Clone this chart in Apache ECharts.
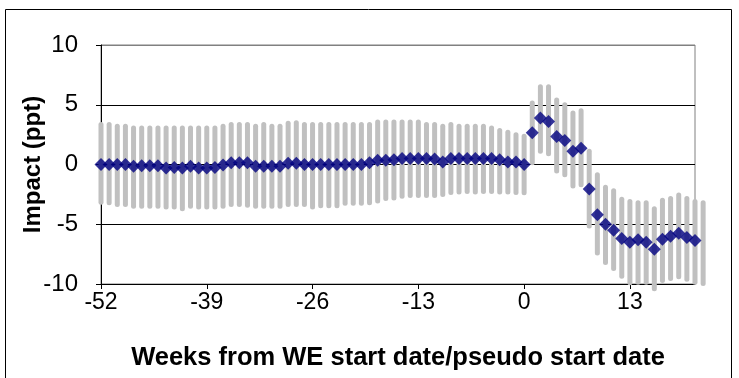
<!DOCTYPE html>
<html>
<head>
<meta charset="utf-8">
<script src="https://cdn.jsdelivr.net/npm/echarts@6/dist/echarts.min.js"></script>
<style>
  html, body { margin: 0; padding: 0; background: #fff; }
  #chart { width: 739px; height: 378px; }
</style>
</head>
<body>
<div id="chart"></div>
<script>
// Weeks relative to the WE start date (or pseudo start date)
const weeks = [
  -52, -51, -50, -49, -48, -47, -46, -45, -44, -43, -42, -41, -40,
  -39, -38, -37, -36, -35, -34, -33, -32, -31, -30, -29, -28, -27,
  -26, -25, -24, -23, -22, -21, -20, -19, -18, -17, -16, -15, -14,
  -13, -12, -11, -10, -9, -8, -7, -6, -5, -4, -3, -2, -1,
  0, 1, 2, 3, 4, 5, 6, 7, 8, 9, 10, 11, 12,
  13, 14, 15, 16, 17, 18, 19, 20, 21, 22
];

// Point estimate of the impact (percentage points)
const impact = [
  0, 0, 0, 0, -0.15, -0.1, -0.1, -0.1, -0.3, -0.25, -0.3, -0.15, -0.3,
  -0.3, -0.25, -0.05, 0.15, 0.15, 0.15, -0.15, -0.15, -0.15, -0.15, 0.1, 0.1, 0,
  0, 0, 0, 0, 0, 0, 0, 0.15, 0.35, 0.35, 0.4, 0.5, 0.5,
  0.5, 0.5, 0.45, 0.2, 0.5, 0.5, 0.5, 0.5, 0.5, 0.5, 0.4, 0.2, 0.2,
  0, 2.65, 3.9, 3.6, 2.35, 2.0, 1.1, 1.35, -2.05, -4.2, -5.0, -5.5, -6.2,
  -6.5, -6.3, -6.5, -7.1, -6.25, -6.0, -5.75, -6.1, -6.35, -6.5
];

// Upper end of the confidence interval
const upper = [
  3.35, 3.35, 3.2, 3.2, 3.05, 3.05, 3.05, 3.05, 3.05, 3.05, 3.05, 3.05, 3.05,
  3.05, 3.05, 3.2, 3.35, 3.35, 3.35, 3.2, 3.35, 3.2, 3.2, 3.45, 3.5, 3.35,
  3.35, 3.35, 3.35, 3.35, 3.35, 3.35, 3.35, 3.35, 3.55, 3.55, 3.55, 3.55, 3.55,
  3.55, 3.35, 3.35, 3.2, 3.35, 3.2, 3.2, 3.2, 3.2, 3.05, 2.85, 2.7, 2.5,
  2.37, 5.15, 6.5, 6.5, 5.4, 5.0, 4.3, 4.5, 1.1, -0.85, -1.9, -2.2, -2.9,
  -3.1, -3.2, -3.2, -3.7, -3.0, -2.85, -2.55, -2.85, -3.1, -3.2
];

// Lower end of the confidence interval
const lower = [
  -3.15, -3.2, -3.35, -3.35, -3.5, -3.5, -3.5, -3.5, -3.55, -3.55, -3.7, -3.5, -3.55,
  -3.55, -3.55, -3.5, -3.35, -3.35, -3.4, -3.5, -3.5, -3.5, -3.5, -3.35, -3.35, -3.35,
  -3.55, -3.45, -3.45, -3.45, -3.25, -3.25, -3.25, -3.2, -3.05, -2.85, -2.8, -2.65, -2.6,
  -2.6, -2.6, -2.6, -2.5, -2.35, -2.3, -2.25, -2.3, -2.25, -2.25, -2.3, -2.3, -2.35,
  -2.37, 0.15, 1.1, 0.9, -0.55, -0.85, -1.8, -1.7, -5.15, -7.4, -8.2, -8.7, -9.35,
  -9.9, -9.85, -9.85, -10.4, -9.7, -9.55, -9.4, -9.6, -9.85, -9.95
];

const xTickLabels = [-52, -39, -26, -13, 0, 13];
const yTickLabels = [-10, -5, 0, 5, 10];

const X_MIN = -52, X_MAX = 21;

const barData = weeks.map((w, i) => [w, lower[i], upper[i]]);
// Markers past the last week on the axis are not drawn
const pointData = weeks
  .map((w, i) => [w, impact[i]])
  .filter(p => p[0] <= X_MAX);

const FONT = '"Liberation Sans", Arial, sans-serif';

const chart = echarts.init(document.getElementById('chart'), null, { renderer: 'canvas' });

chart.setOption({
  animation: false,
  backgroundColor: '#ffffff',
  graphic: [{
    type: 'rect',
    shape: { x: 5.5, y: 9.5, width: 726, height: 390 },
    style: { fill: null, stroke: '#000', lineWidth: 1 },
    silent: true,
    z: 100
  }],
  grid: {
    left: 101, right: 44, top: 45, bottom: 94,
    show: true, borderColor: '#808080', borderWidth: 1,
    backgroundColor: 'transparent'
  },
  xAxis: {
    type: 'value',
    min: X_MIN, max: X_MAX, interval: 13,
    name: 'Weeks from WE start date/pseudo start date',
    nameLocation: 'middle',
    nameGap: 61,
    nameMoveOverlap: false,
    nameTextStyle: { fontFamily: FONT, fontSize: 25.5, fontWeight: 'bold', color: '#000' },
    axisLine: { show: true, onZero: false, lineStyle: { color: '#000', width: 1 } },
    axisTick: { show: true, length: 5, customValues: xTickLabels, lineStyle: { color: '#000' } },
    axisLabel: {
      customValues: xTickLabels,
      fontFamily: FONT, fontSize: 23, color: '#000', margin: 7
    },
    splitLine: { show: false }
  },
  yAxis: {
    type: 'value',
    min: -10, max: 10, interval: 5,
    name: 'Impact (ppt)',
    nameLocation: 'middle',
    nameGap: 56,
    nameMoveOverlap: false,
    nameTextStyle: { fontFamily: FONT, fontSize: 24, fontWeight: 'bold', color: '#000' },
    axisLine: { show: true, onZero: false, lineStyle: { color: '#000', width: 1 } },
    axisTick: { show: true, length: 5, lineStyle: { color: '#000' } },
    axisLabel: {
      customValues: yTickLabels,
      fontFamily: FONT, fontSize: 24, color: '#000', margin: 23
    },
    splitLine: { show: true, lineStyle: { color: ['#000', '#000', '#000', '#000', '#808080'], width: 1 } }
  },
  series: [
    {
      type: 'custom',
      name: 'interval',
      clip: false,
      data: barData,
      encode: { x: 0, y: [1, 2] },
      renderItem: function (params, api) {
        const top = api.coord([api.value(0), api.value(2)]);
        const bottom = api.coord([api.value(0), api.value(1)]);
        return {
          type: 'line',
          shape: { x1: top[0], y1: top[1], x2: bottom[0], y2: bottom[1] },
          style: { stroke: '#c0c0c0', lineWidth: 5, lineCap: 'round' }
        };
      },
      z: 2
    },
    {
      type: 'scatter',
      name: 'impact',
      clip: false,
      data: pointData,
      symbol: 'diamond',
      symbolSize: 13,
      itemStyle: { color: '#000080' },
      z: 3
    }
  ]
});
</script>
</body>
</html>
